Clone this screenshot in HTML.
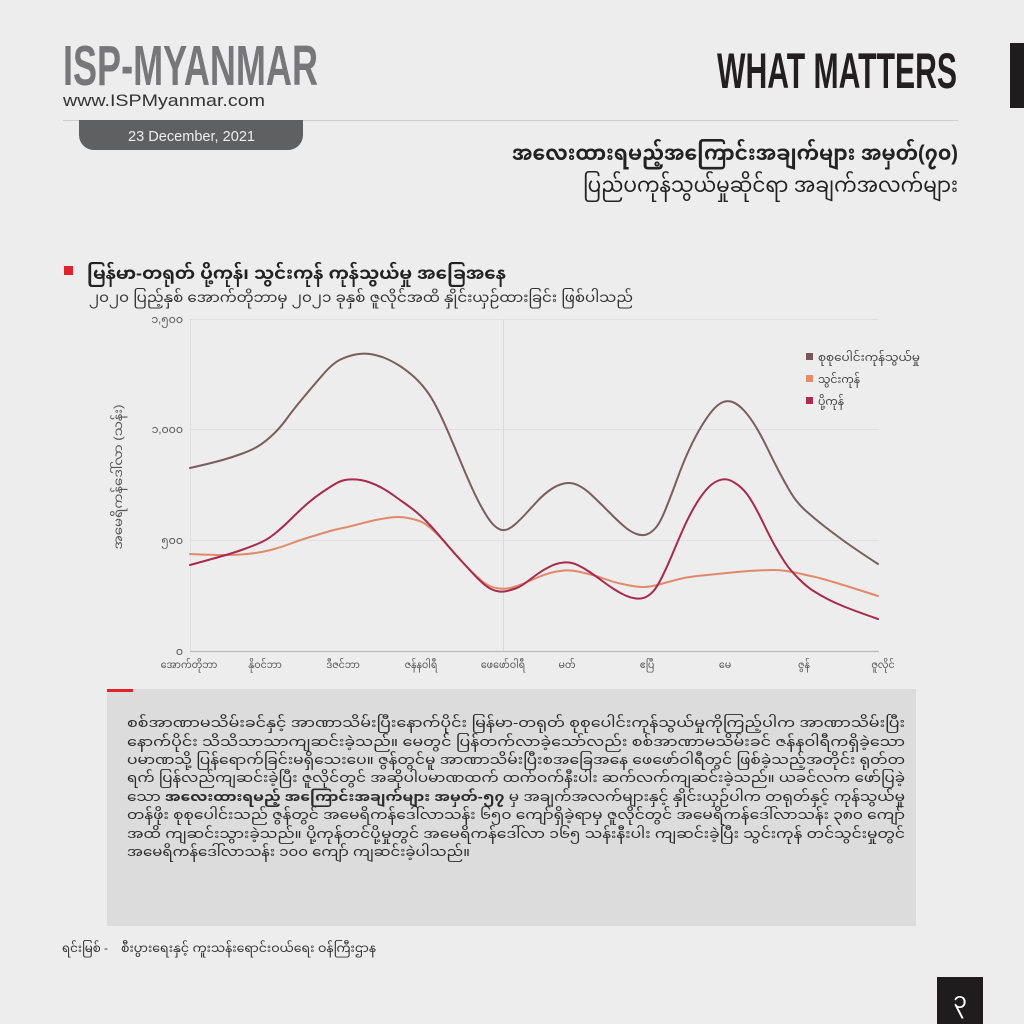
<!DOCTYPE html>
<html>
<head>
<meta charset="utf-8">
<style>
html,body{margin:0;padding:0;background:#ededed;}
svg{display:block;}
.mm{font-family:"Liberation Sans","Noto Sans Myanmar","Padauk","Myanmar Text","DejaVu Sans",sans-serif;}
</style>
</head>
<body>
<svg width="1024" height="1024" viewBox="0 0 1024 1024" xmlns="http://www.w3.org/2000/svg">
<rect x="0" y="0" width="1024" height="1024" fill="#ededed"/>

<!-- Header left -->
<text x="63" y="85" font-family="'Liberation Sans Narrow','Liberation Sans',sans-serif" font-weight="bold" font-size="57" fill="#77777a" textLength="255" lengthAdjust="spacingAndGlyphs">ISP-MYANMAR</text>
<text x="63" y="106" font-family="'Liberation Sans',sans-serif" font-size="17" fill="#333" textLength="202" lengthAdjust="spacingAndGlyphs">www.ISPMyanmar.com</text>
<line x1="63" y1="120.5" x2="958" y2="120.5" stroke="#cfcfcf" stroke-width="1"/>
<path d="M79 120 H303 V135 A15 15 0 0 1 288 150 H94 A15 15 0 0 1 79 135 Z" fill="#5f6062"/>
<text x="128" y="141" font-family="'Liberation Sans',sans-serif" font-size="15" fill="#eeeeee" textLength="127" lengthAdjust="spacingAndGlyphs">23 December, 2021</text>

<!-- Header right -->
<text x="717" y="88" font-family="'Liberation Sans Narrow','Liberation Sans',sans-serif" font-weight="bold" font-size="50" fill="#231f20" textLength="240" lengthAdjust="spacingAndGlyphs">WHAT MATTERS</text>
<rect x="1010" y="43" width="14" height="65" fill="#1e1c1d"/>
<text class="mm" x="958" y="160" text-anchor="end" font-weight="bold" font-size="21" fill="#222" textLength="446" lengthAdjust="spacingAndGlyphs">အလေးထားရမည့်အကြောင်းအချက်များ အမှတ်(၇၀)</text>
<text class="mm" x="958" y="192" text-anchor="end" font-size="21" fill="#222" textLength="375" lengthAdjust="spacingAndGlyphs">ပြည်ပကုန်သွယ်မှုဆိုင်ရာ အချက်အလက်များ</text>

<!-- Section heading -->
<rect x="64" y="266" width="9" height="9" fill="#e4202a"/>
<text class="mm" x="87" y="279" font-weight="bold" font-size="17" fill="#222" textLength="419" lengthAdjust="spacingAndGlyphs">မြန်မာ-တရုတ် ပို့ကုန်၊ သွင်းကုန် ကုန်သွယ်မှု အခြေအနေ</text>
<text class="mm" x="89" y="302" font-size="13.5" fill="#333" textLength="544" lengthAdjust="spacingAndGlyphs">၂၀၂၀ ပြည့်နှစ် အောက်တိုဘာမှ ၂၀၂၁ ခုနှစ် ဇူလိုင်အထိ နှိုင်းယှဉ်ထားခြင်း ဖြစ်ပါသည်</text>

<!-- Chart grid -->
<g stroke="#e0e0e0" stroke-width="1">
<line x1="190" y1="319.5" x2="879" y2="319.5"/>
<line x1="190" y1="429.5" x2="879" y2="429.5"/>
<line x1="190" y1="540.5" x2="879" y2="540.5"/>
<line x1="190.5" y1="319" x2="190.5" y2="651"/>
<line x1="503.5" y1="319" x2="503.5" y2="651" stroke="#dadada"/>
</g>
<line x1="190" y1="651.5" x2="879" y2="651.5" stroke="#b9b9b9" stroke-width="1.2"/>

<!-- Y tick labels -->
<g class="mm" font-size="11" fill="#555" text-anchor="end">
<text x="183" y="323">၁,၅၀၀</text>
<text x="183" y="433">၁,၀၀၀</text>
<text x="183" y="544">၅၀၀</text>
<text x="183" y="655">၀</text>
</g>
<text class="mm" transform="translate(122,477) rotate(-90)" text-anchor="middle" font-size="12" fill="#555" textLength="145" lengthAdjust="spacingAndGlyphs">အမေရိကန်ဒေါ်လာ (သန်း)</text>

<!-- X labels -->
<g class="mm" font-size="9.5" fill="#555" text-anchor="middle">
<text x="189" y="668">အောက်တိုဘာ</text>
<text x="265" y="668">နိုဝင်ဘာ</text>
<text x="343" y="668">ဒီဇင်ဘာ</text>
<text x="421" y="668">ဇန်နဝါရီ</text>
<text x="503" y="668">ဖေဖော်ဝါရီ</text>
<text x="567" y="668">မတ်</text>
<text x="647" y="668">ဧပြီ</text>
<text x="725" y="668">မေ</text>
<text x="804" y="668">ဇွန်</text>
<text x="883" y="668">ဇူလိုင်</text>
</g>

<!-- Series (smoothed with quadratic midpoints) -->
<g fill="none" stroke-width="2" stroke-linejoin="round" stroke-linecap="round">
<path stroke="#e08a6b" d="M190,554 Q212,555 222.5,555 Q233,555 240.5,554.5 Q248,554 255.5,553 Q263,552 272.5,549.5 Q282,547 291,543.5 Q300,540 308.5,537.5 Q317,535 325,532.5 Q333,530 340.5,528.5 Q348,527 355.5,525 Q363,523 369,521.5 Q375,520 381,519 Q387,518 391,517.5 Q395,517 399,517 Q403,517 408,518 Q413,519 418,520.5 Q423,522 428,526 Q433,530 438,535 Q443,540 449,547 Q455,554 461,560.5 Q467,567 472,572 Q477,577 482,581 Q487,585 491,586.5 Q495,588 499,588.5 Q503,589 507,588.5 Q511,588 515.5,586.5 Q520,585 526,582.5 Q532,580 537.5,577.5 Q543,575 550,573 Q557,571 564,570.5 Q571,570 578,571.5 Q585,573 592.5,575 Q600,577 606.5,579.5 Q613,582 620,583.5 Q627,585 632.5,586 Q638,587 644,587 Q650,587 659,584.5 Q668,582 677.5,579.5 Q687,577 697,576 Q707,575 717,574 Q727,573 737,572 Q747,571 757,570.5 Q767,570 773.5,570 Q780,570 786.5,571 Q793,572 799.5,573.5 Q806,575 813,576.5 Q820,578 835,582.5 Q850,587 878,596"/>
<path stroke="#a8294b" d="M190,565 Q212,559 222.5,556 Q233,553 241.5,550 Q250,547 258.5,543.5 Q267,540 275,533.5 Q283,527 291.5,518.5 Q300,510 307.5,503.5 Q315,497 322.5,492 Q330,487 335,484 Q340,481 345,480 Q350,479 356.5,479.5 Q363,480 370,482.5 Q377,485 383,488.5 Q389,492 394.5,496 Q400,500 405,503.5 Q410,507 415,511 Q420,515 426,521 Q432,527 437.5,533.5 Q443,540 449,547 Q455,554 461,560.5 Q467,567 472,572.5 Q477,578 482,582.5 Q487,587 491,589 Q495,591 499,591.5 Q503,592 507,591 Q511,590 515.5,588.5 Q520,587 526,582.5 Q532,578 537.5,574 Q543,570 550,566.5 Q557,563 564,562.5 Q571,562 577.5,565 Q584,568 590.5,572.5 Q597,577 603,581.5 Q609,586 614.5,589.5 Q620,593 625.5,595.5 Q631,598 636.5,598.5 Q642,599 646,597 Q650,595 653.5,591 Q657,587 662,577 Q667,567 672,555 Q677,543 682.5,530.5 Q688,518 694,507.5 Q700,497 706,490 Q712,483 718.5,480.5 Q725,478 730.5,480.5 Q736,483 741.5,488 Q747,493 752.5,502.5 Q758,512 764,524.5 Q770,537 775,546 Q780,555 785,562.5 Q790,570 798.5,578.5 Q807,587 813.5,591 Q820,595 826.5,598.5 Q833,602 844,606.5 Q855,611 878,619"/>
<path stroke="#7a5e5b" d="M190,468 Q212,463 222.5,460 Q233,457 242.5,453.5 Q252,450 258.5,446 Q265,442 272.5,435 Q280,428 286.5,419 Q293,410 303,398 Q313,386 323,374.5 Q333,363 340.5,359.5 Q348,356 355.5,354.5 Q363,353 370,354 Q377,355 383.5,357.5 Q390,360 397.5,364.5 Q405,369 412.5,375.5 Q420,382 426,390 Q432,398 437.5,409 Q443,420 449,434 Q455,448 461,462.5 Q467,477 472,488 Q477,499 482,508 Q487,517 491,522 Q495,527 499,529 Q503,531 507,529.5 Q511,528 515.5,524 Q520,520 526,513.5 Q532,507 537.5,501 Q543,495 550,490 Q557,485 564,483.5 Q571,482 577.5,485 Q584,488 590.5,494 Q597,500 603,506 Q609,512 614.5,517.5 Q620,523 625.5,527.5 Q631,532 636.5,534 Q642,536 646.5,534.5 Q651,533 655.5,528 Q660,523 665.5,509.5 Q671,496 677,479.5 Q683,463 689,450 Q695,437 701,427 Q707,417 712,411 Q717,405 722,402.5 Q727,400 732.5,402 Q738,404 744,410.5 Q750,417 756,427 Q762,437 767.5,448.5 Q773,460 779,471.5 Q785,483 791,493 Q797,503 806,511 Q815,519 824,526 Q833,533 844,541 Q855,549 878,564"/>
</g>

<!-- Legend -->
<rect x="806" y="353" width="7" height="7" fill="#7b5754"/>
<rect x="806" y="375" width="7" height="7" fill="#e38b6a"/>
<rect x="806" y="397" width="7" height="7" fill="#b02a4c"/>
<g class="mm" font-size="10.5" fill="#444">
<text x="818" y="361" textLength="102" lengthAdjust="spacingAndGlyphs">စုစုပေါင်းကုန်သွယ်မှု</text>
<text x="818" y="383" textLength="42" lengthAdjust="spacingAndGlyphs">သွင်းကုန်</text>
<text x="818" y="405" textLength="26" lengthAdjust="spacingAndGlyphs">ပို့ကုန်</text>
</g>

<!-- Text box -->
<rect x="107" y="689" width="809" height="237" fill="#dcdcdd"/>
<rect x="107" y="689" width="26" height="3" fill="#e4202a"/>
<g class="mm" font-size="12.5" fill="#2a2a2a">
<text x="127" y="727" textLength="778" lengthAdjust="spacingAndGlyphs">စစ်အာဏာမသိမ်းခင်နှင့် အာဏာသိမ်းပြီးနောက်ပိုင်း မြန်မာ-တရုတ် စုစုပေါင်းကုန်သွယ်မှုကိုကြည့်ပါက အာဏာသိမ်းပြီး</text>
<text x="127" y="746" textLength="778" lengthAdjust="spacingAndGlyphs">နောက်ပိုင်း သိသိသာသာကျဆင်းခဲ့သည်။ မေတွင် ပြန်တက်လာခဲ့သော်လည်း စစ်အာဏာမသိမ်းခင် ဇန်နဝါရီကရှိခဲ့သော</text>
<text x="127" y="764" textLength="778" lengthAdjust="spacingAndGlyphs">ပမာဏသို့ ပြန်ရောက်ခြင်းမရှိသေးပေ။ ဇွန်တွင်မူ အာဏာသိမ်းပြီးစအခြေအနေ ဖေဖော်ဝါရီတွင် ဖြစ်ခဲ့သည့်အတိုင်း ရုတ်တ</text>
<text x="127" y="782" textLength="778" lengthAdjust="spacingAndGlyphs">ရက် ပြန်လည်ကျဆင်းခဲ့ပြီး ဇူလိုင်တွင် အဆိုပါပမာဏထက် ထက်ဝက်နီးပါး ဆက်လက်ကျဆင်းခဲ့သည်။ ယခင်လက ဖော်ပြခဲ့</text>
<text x="127" y="801" textLength="778" lengthAdjust="spacingAndGlyphs">သော <tspan font-weight="bold">အလေးထားရမည့် အကြောင်းအချက်များ အမှတ်-၅၇</tspan> မှ အချက်အလက်များနှင့် နှိုင်းယှဉ်ပါက တရုတ်နှင့် ကုန်သွယ်မှု</text>
<text x="127" y="819" textLength="778" lengthAdjust="spacingAndGlyphs">တန်ဖိုး စုစုပေါင်းသည် ဇွန်တွင် အမေရိကန်ဒေါ်လာသန်း ၆၅၀ ကျော်ရှိခဲ့ရာမှ ဇူလိုင်တွင် အမေရိကန်ဒေါ်လာသန်း ၃၈၀ ကျော်</text>
<text x="127" y="838" textLength="778" lengthAdjust="spacingAndGlyphs">အထိ ကျဆင်းသွားခဲ့သည်။ ပို့ကုန်တင်ပို့မှုတွင် အမေရိကန်ဒေါ်လာ ၁၆၅ သန်းနီးပါး ကျဆင်းခဲ့ပြီး သွင်းကုန် တင်သွင်းမှုတွင်</text>
<text x="127" y="856" textLength="343" lengthAdjust="spacingAndGlyphs">အမေရိကန်ဒေါ်လာသန်း ၁၀၀ ကျော် ကျဆင်းခဲ့ပါသည်။</text>
</g>

<!-- Source -->
<g class="mm" font-size="12" fill="#333">
<text x="62" y="952" textLength="46" lengthAdjust="spacingAndGlyphs">ရင်းမြစ် -</text>
<text x="121" y="952" textLength="255" lengthAdjust="spacingAndGlyphs">စီးပွားရေးနှင့် ကူးသန်းရောင်းဝယ်ရေး ဝန်ကြီးဌာန</text>
</g>

<!-- Page number -->
<rect x="937" y="977" width="46" height="47" fill="#1e1c1d"/>
<text class="mm" x="960" y="1008" text-anchor="middle" font-size="22" fill="#ffffff">၃</text>
</svg>
</body>
</html>
